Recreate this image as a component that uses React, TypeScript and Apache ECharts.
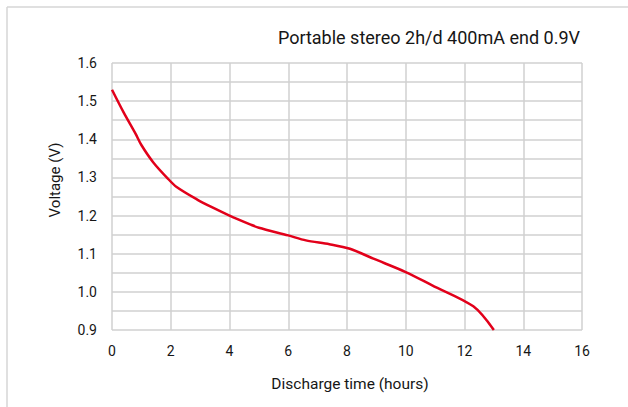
import React, { useEffect, useRef } from "react";
import * as echarts from "echarts";

const titleText = "Portable stereo 2h/d 400mA end 0.9V";
const xAxisTitle = "Discharge time (hours)";
const yAxisTitle = "Voltage (V)";

const hours = [0, 0.4, 0.8, 1.0, 1.4, 1.9, 2.2, 2.9, 3.4, 4.0, 4.7, 5.0, 6.0, 6.6, 7.4, 8.1, 8.9, 10.0, 10.9, 12.3, 13.0];
const volts = [1.53, 1.47, 1.415, 1.385, 1.34, 1.297, 1.275, 1.242, 1.222, 1.2, 1.177, 1.168, 1.148, 1.135, 1.125, 1.113, 1.087, 1.052, 1.017, 0.962, 0.9];

const FONT = "Roboto";
const TEXT = "#161616";

export default function App() {
  const ref = useRef<HTMLDivElement>(null);
  useEffect(() => {
    document.body.style.margin = "0";
    if (!ref.current) return;
    const chart = echarts.init(ref.current, null, { renderer: "svg" });
    const data = hours.map((h, i) => [h, volts[i]]);
    chart.setOption({
      animation: false,
      backgroundColor: "#ffffff",
      grid: { left: 112, right: 46, top: 63, bottom: 77, containLabel: false },
      graphic: [
        { type: "line", shape: { x1: 7, y1: 7, x2: 7, y2: 420 }, style: { stroke: "#d6d6d6", lineWidth: 1.5 } },
        { type: "line", shape: { x1: 7, y1: 7, x2: 640, y2: 7 }, style: { stroke: "#d6d6d6", lineWidth: 1.5 } },
        {
          type: "text",
          right: 48,
          top: 28,
          style: { text: titleText, font: `18px ${FONT}`, fill: TEXT },
        },
        {
          type: "text",
          x: 55,
          y: 180,
          rotation: Math.PI / 2,
          style: { text: yAxisTitle, font: `15px ${FONT}`, fill: TEXT, align: "center", verticalAlign: "middle" },
        },
        {
          type: "text",
          x: 350,
          y: 384,
          style: { text: xAxisTitle, font: `15.5px ${FONT}`, fill: TEXT, align: "center", verticalAlign: "middle" },
        },
      ],
      xAxis: {
        type: "value",
        min: 0,
        max: 16,
        interval: 2,
        axisLine: { show: false },
        axisTick: { show: false },
        axisLabel: { fontFamily: FONT, fontSize: 14, color: TEXT, margin: 14 },
        splitLine: { show: true, lineStyle: { color: "#d0d0d0", width: 1.5 } },
      },
      yAxis: {
        type: "value",
        min: 0.9,
        max: 1.6,
        interval: 0.05,
        axisLine: { show: false },
        axisTick: { show: false },
        axisLabel: {
          fontFamily: FONT,
          fontSize: 14,
          color: TEXT,
          margin: 15,
          formatter: (v: number) => {
            const k = Math.round(v * 100);
            return k % 10 === 0 ? (k / 100).toFixed(1) : "";
          },
        },
        splitLine: { show: true, lineStyle: { color: "#d0d0d0", width: 1.5 } },
      },
      series: [
        {
          type: "line",
          data,
          showSymbol: false,
          smooth: 0.3,
          lineStyle: { color: "#e2001a", width: 2.5 },
        },
      ],
    });
    return () => chart.dispose();
  }, []);
  return <div ref={ref} style={{ width: 628, height: 407 }} />;
}
